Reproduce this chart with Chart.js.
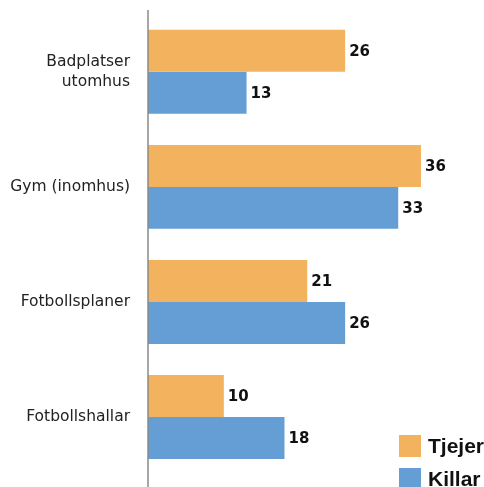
<!DOCTYPE html>
<html>
<head>
<meta charset="utf-8">
<script src="https://cdn.jsdelivr.net/npm/chart.js@4/dist/chart.umd.min.js"></script>
<style>
  html, body { margin: 0; padding: 0; background: #fff; }
  #wrap { width: 484px; height: 487px; position: relative; }
</style>
</head>
<body>
<div id="wrap"><canvas id="chart"></canvas></div>
<script>
// data
const categories = [['Badplatser', 'utomhus'], 'Gym (inomhus)', 'Fotbollsplaner', 'Fotbollshallar'];
const seriesNames = ['Tjejer', 'Killar'];
const tjejer = [26, 36, 21, 10];
const killar = [13, 33, 26, 18];

const COLORS = ['#F3B35E', '#659ED5'];
const LABEL_FONT = "'DejaVu Sans', sans-serif";

// vertical axis line, runs past the chart area like the original
const axisLine = {
  id: 'axisLine',
  afterDatasetsDraw(chart) {
    const { ctx, chartArea } = chart;
    ctx.save();
    ctx.strokeStyle = '#8a8a8a';
    ctx.lineWidth = 1.5;
    ctx.beginPath();
    ctx.moveTo(chartArea.left, 10);
    ctx.lineTo(chartArea.left, chart.height);
    ctx.stroke();
    ctx.restore();
  }
};

// value labels at bar ends
const valueLabels = {
  id: 'valueLabels',
  afterDatasetsDraw(chart) {
    const ctx = chart.ctx;
    ctx.save();
    ctx.font = "bold 15px " + LABEL_FONT;
    ctx.fillStyle = '#111';
    ctx.textAlign = 'left';
    ctx.textBaseline = 'middle';
    chart.data.datasets.forEach((ds, i) => {
      chart.getDatasetMeta(i).data.forEach((bar, j) => {
        ctx.fillText(String(ds.data[j]), bar.x + 4, bar.y + 1);
      });
    });
    ctx.restore();
  }
};

// legend in bottom right corner
const cornerLegend = {
  id: 'cornerLegend',
  afterDraw(chart) {
    const ctx = chart.ctx;
    const box = 22, rowGap = 33;
    const x = chart.width - 85;
    let y = chart.height - 52;
    ctx.save();
    ctx.font = "bold 21px 'Liberation Sans', Arial, sans-serif";
    ctx.textBaseline = 'middle';
    chart.data.datasets.forEach(ds => {
      ctx.fillStyle = ds.backgroundColor;
      ctx.fillRect(x, y, box, box);
      ctx.fillStyle = '#111';
      ctx.fillText(ds.label, x + box + 7, y + box / 2 + 1);
      y += rowGap;
    });
    ctx.restore();
  }
};

new Chart(document.getElementById('chart'), {
  type: 'bar',
  data: {
    labels: categories,
    datasets: [
      { label: seriesNames[0], data: tjejer, backgroundColor: COLORS[0] },
      { label: seriesNames[1], data: killar, backgroundColor: COLORS[1] }
    ]
  },
  options: {
    indexAxis: 'y',
    responsive: true,
    maintainAspectRatio: false,
    animation: false,
    layout: { padding: { left: 0, right: 32.7, top: 14.3, bottom: 12.5 } },
    datasets: { bar: { categoryPercentage: 0.73, barPercentage: 1 } },
    plugins: {
      legend: { display: false },
      tooltip: { enabled: false }
    },
    scales: {
      x: { min: 0, max: 40, display: false },
      y: {
        grid: { display: false, drawTicks: false },
        border: { display: false },
        afterFit(scale) {
          scale.width = 148;
          scale.paddingTop = 0;
          scale.paddingBottom = 0;
        },
        ticks: {
          color: '#222',
          padding: 18,
          font: { family: LABEL_FONT, size: 15.5, lineHeight: 1.3 }
        }
      }
    }
  },
  plugins: [axisLine, valueLabels, cornerLegend]
});
</script>
</body>
</html>
